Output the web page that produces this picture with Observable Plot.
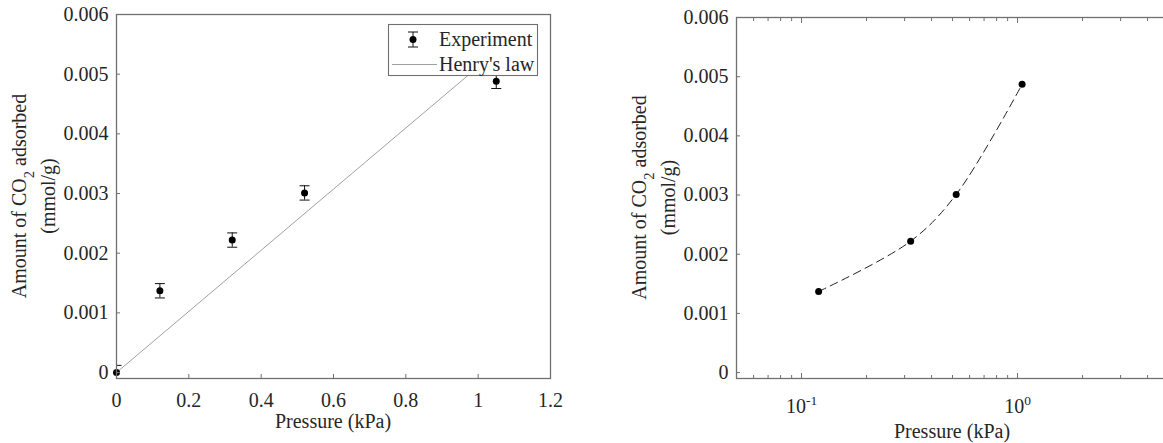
<!DOCTYPE html>
<html><head><meta charset="utf-8">
<script src="https://cdn.jsdelivr.net/npm/d3@7"></script>
<script src="https://cdn.jsdelivr.net/npm/@observablehq/plot@0.6"></script>
<style>
html,body{margin:0;padding:0;background:#fff;overflow:hidden}
#wrap{position:relative;width:1163px;height:443px;overflow:hidden;background:#fff}
#left,#right{position:absolute;top:0;height:443px}
#left{left:0;width:580px}
#right{left:590px;width:573px;overflow:hidden}
#wrap svg{max-width:none !important}
</style></head>
<body><div id="wrap"><div id="left"></div><div id="right"></div></div>
<script>
// ---- data ----
const pressure = [0, 0.12, 0.32, 0.52, 1.05];            // kPa
const adsorbed = [0, 0.00137, 0.00222, 0.00301, 0.00488]; // mmol/g
const errorBar = [0.00012, 0.00012, 0.00012, 0.00012, 0.00012];
const henryX = [0, 1.05];
const henryY = [0, 0.00538];
const logPressure = [0.12, 0.32, 0.52, 1.05];
const logAdsorbed = [0.00137, 0.00222, 0.00301, 0.00487];
const yTicks = [0, 0.001, 0.002, 0.003, 0.004, 0.005, 0.006];
const xTicksLinear = [0, 0.2, 0.4, 0.6, 0.8, 1, 1.2];
const logMajor = [0.1, 1];
const logMajorExp = ["-1", "0"];
const logMinor = [0.06, 0.07, 0.08, 0.09, 0.2, 0.3, 0.4, 0.5, 0.6, 0.7, 0.8, 0.9, 2, 3, 4];
const yLabel1 = ["Amount of CO", "2", " adsorbed"];
const yLabel2 = "(mmol/g)";
const xLabel = "Pressure (kPa)";
const legendLabels = ["Experiment", "Henry's law"];

// ---- styles ----
const font = "'Liberation Serif','Times New Roman',serif";
const fs = 20;
const textColor = "#262626";
const frameColor = "#707070";
const henryColor = "#a0a0a0";
const capSymbol = {draw(ctx, size) { const w = Math.sqrt(size / Math.PI); ctx.moveTo(-w, 0); ctx.lineTo(w, 0); }};

const rows = pressure.map((p, i) => ({p, a: adsorbed[i], e: errorBar[i]}));
const henryRows = henryX.map((x, i) => ({x, y: henryY[i]}));
const logRows = logPressure.map((p, i) => ({p, a: logAdsorbed[i]}));

const common = {
  height: 443, marginBottom: 65,
  y: {domain: [-0.0001, 0.006]}
};
const baseStyle = {fontFamily: font, fontSize: fs + "px", color: textColor, background: "white", maxWidth: "none"};

function yAxes() {
  return [
    Plot.axisY({ticks: yTicks, tickSize: 0, tickPadding: 8, tickFormat: d => String(d), label: null, fontSize: fs}),
    Plot.axisY({ticks: yTicks, tickSize: -4, tickFormat: () => "", label: null, stroke: frameColor})
  ];
}

function addYLabel(svg, axisX, cy) {
  const t = svg.append("text")
    .attr("transform", `translate(${axisX - 90},${cy}) rotate(-90)`)
    .attr("text-anchor", "middle").attr("font-family", font).attr("font-size", fs).attr("fill", textColor);
  t.append("tspan").text(yLabel1[0]);
  t.append("tspan").attr("dy", 8).attr("font-size", 14.5).text(yLabel1[1]);
  t.append("tspan").attr("dy", -8).text(yLabel1[2]);
  svg.append("text")
    .attr("transform", `translate(${axisX - 61},${cy}) rotate(-90)`)
    .attr("text-anchor", "middle").attr("font-family", font).attr("font-size", fs).attr("fill", textColor)
    .text(yLabel2);
}
function addXLabel(svg, cx, baseline) {
  svg.append("text").attr("x", cx).attr("y", baseline)
    .attr("text-anchor", "middle").attr("font-family", font).attr("font-size", fs).attr("fill", textColor)
    .text(xLabel);
}

// ---- left panel ----
const leftPlot = Plot.plot({
  ...common,
  style: {...baseStyle, overflow: "visible"},
  width: 580, marginLeft: 116, marginRight: 30, marginTop: 14,
  x: {domain: [0, 1.2]},
  marks: [
    Plot.line(henryRows, {x: "x", y: "y", stroke: henryColor, strokeWidth: 1}),
    Plot.ruleX(rows, {x: "p", y1: d => d.a - d.e, y2: d => d.a + d.e, stroke: "#111", strokeWidth: 1, clip: true}),
    Plot.dot(rows, {x: "p", y: d => d.a - d.e, symbol: capSymbol, r: 5, stroke: "#111", strokeWidth: 1, clip: true}),
    Plot.dot(rows, {x: "p", y: d => d.a + d.e, symbol: capSymbol, r: 5, stroke: "#111", strokeWidth: 1, clip: true}),
    Plot.dot(rows, {x: "p", y: "a", r: 3.5, fill: "#000", stroke: "none"}),
    Plot.axisX({ticks: xTicksLinear, tickSize: 0, tickPadding: 14, tickFormat: d => String(d), label: null, fontSize: fs}),
    Plot.axisX({ticks: xTicksLinear, tickSize: -4, tickFormat: () => "", label: null, stroke: frameColor}),
    ...yAxes(),
    Plot.frame({stroke: frameColor, strokeWidth: 1.3})
  ]
});
document.getElementById("left").append(leftPlot);
{
  const svg = d3.select(leftPlot);
  addYLabel(svg, 116, 196);
  addXLabel(svg, 333, 428);
  // legend
  const g = svg.append("g").attr("font-family", font).attr("font-size", fs).attr("fill", textColor).attr("text-anchor", "start");
  g.append("rect").attr("x", 388.5).attr("y", 24.5).attr("width", 149).attr("height", 51)
    .attr("fill", "white").attr("stroke", frameColor).attr("stroke-width", 1.1);
  g.append("line").attr("x1", 413).attr("x2", 413).attr("y1", 32).attr("y2", 47).attr("stroke", "#111");
  g.append("line").attr("x1", 408).attr("x2", 418).attr("y1", 32).attr("y2", 32).attr("stroke", "#111");
  g.append("line").attr("x1", 408).attr("x2", 418).attr("y1", 47).attr("y2", 47).attr("stroke", "#111");
  g.append("circle").attr("cx", 413).attr("cy", 39.5).attr("r", 3.5).attr("fill", "#000");
  g.append("text").attr("x", 439).attr("y", 39.5).attr("dy", "0.34em").attr("text-anchor", "start").text(legendLabels[0]);
  g.append("line").attr("x1", 392).attr("x2", 437).attr("y1", 64.5).attr("y2", 64.5).attr("stroke", henryColor);
  g.append("text").attr("x", 439).attr("y", 64.5).attr("dy", "0.34em").attr("text-anchor", "start").text(legendLabels[1]);
}

// ---- right panel (axes box runs past the right edge of the picture) ----
const rightPlot = Plot.plot({
  ...common,
  style: {...baseStyle, overflow: "hidden"},
  width: 573, marginLeft: 146, marginRight: -5, marginTop: 17,
  x: {type: "log", domain: [0.05, 5]},
  marks: [
    Plot.line(logRows, {x: "p", y: "a", stroke: "#222", strokeWidth: 1, strokeDasharray: "8,5", curve: "catmull-rom"}),
    Plot.dot(logRows, {x: "p", y: "a", r: 3.5, fill: "#000", stroke: "none"}),
    Plot.axisX({ticks: logMajor, tickSize: 0, tickPadding: 20, tickFormat: d => "10", label: null, fontSize: fs}),
    Plot.axisX({ticks: logMajor, tickSize: -5, tickFormat: () => "", label: null, stroke: frameColor}),
    Plot.axisX({ticks: logMinor, tickSize: -3, tickFormat: () => "", label: null, stroke: frameColor}),
    Plot.axisX({anchor: "top", ticks: logMajor, tickSize: -5, tickFormat: () => "", label: null, stroke: frameColor}),
    Plot.axisX({anchor: "top", ticks: logMinor, tickSize: -3, tickFormat: () => "", label: null, stroke: frameColor}),
    ...yAxes(),
    Plot.frame({stroke: frameColor, strokeWidth: 1.3})
  ]
});
document.getElementById("right").append(rightPlot);
{
  const svg = d3.select(rightPlot);
  // superscript exponents on the log tick labels
  svg.selectAll('g[aria-label="x-axis tick label"] text').each(function(d, i) {
    const t = d3.select(this);
    if (t.text() === "10") {
      t.append("tspan").attr("dy", -8).attr("font-size", 13.5).text(logMajorExp[i] ?? "");
    }
  });
  addYLabel(svg, 146, 197.5);
  addXLabel(svg, 952 - 590, 438);
}
</script></body></html>
